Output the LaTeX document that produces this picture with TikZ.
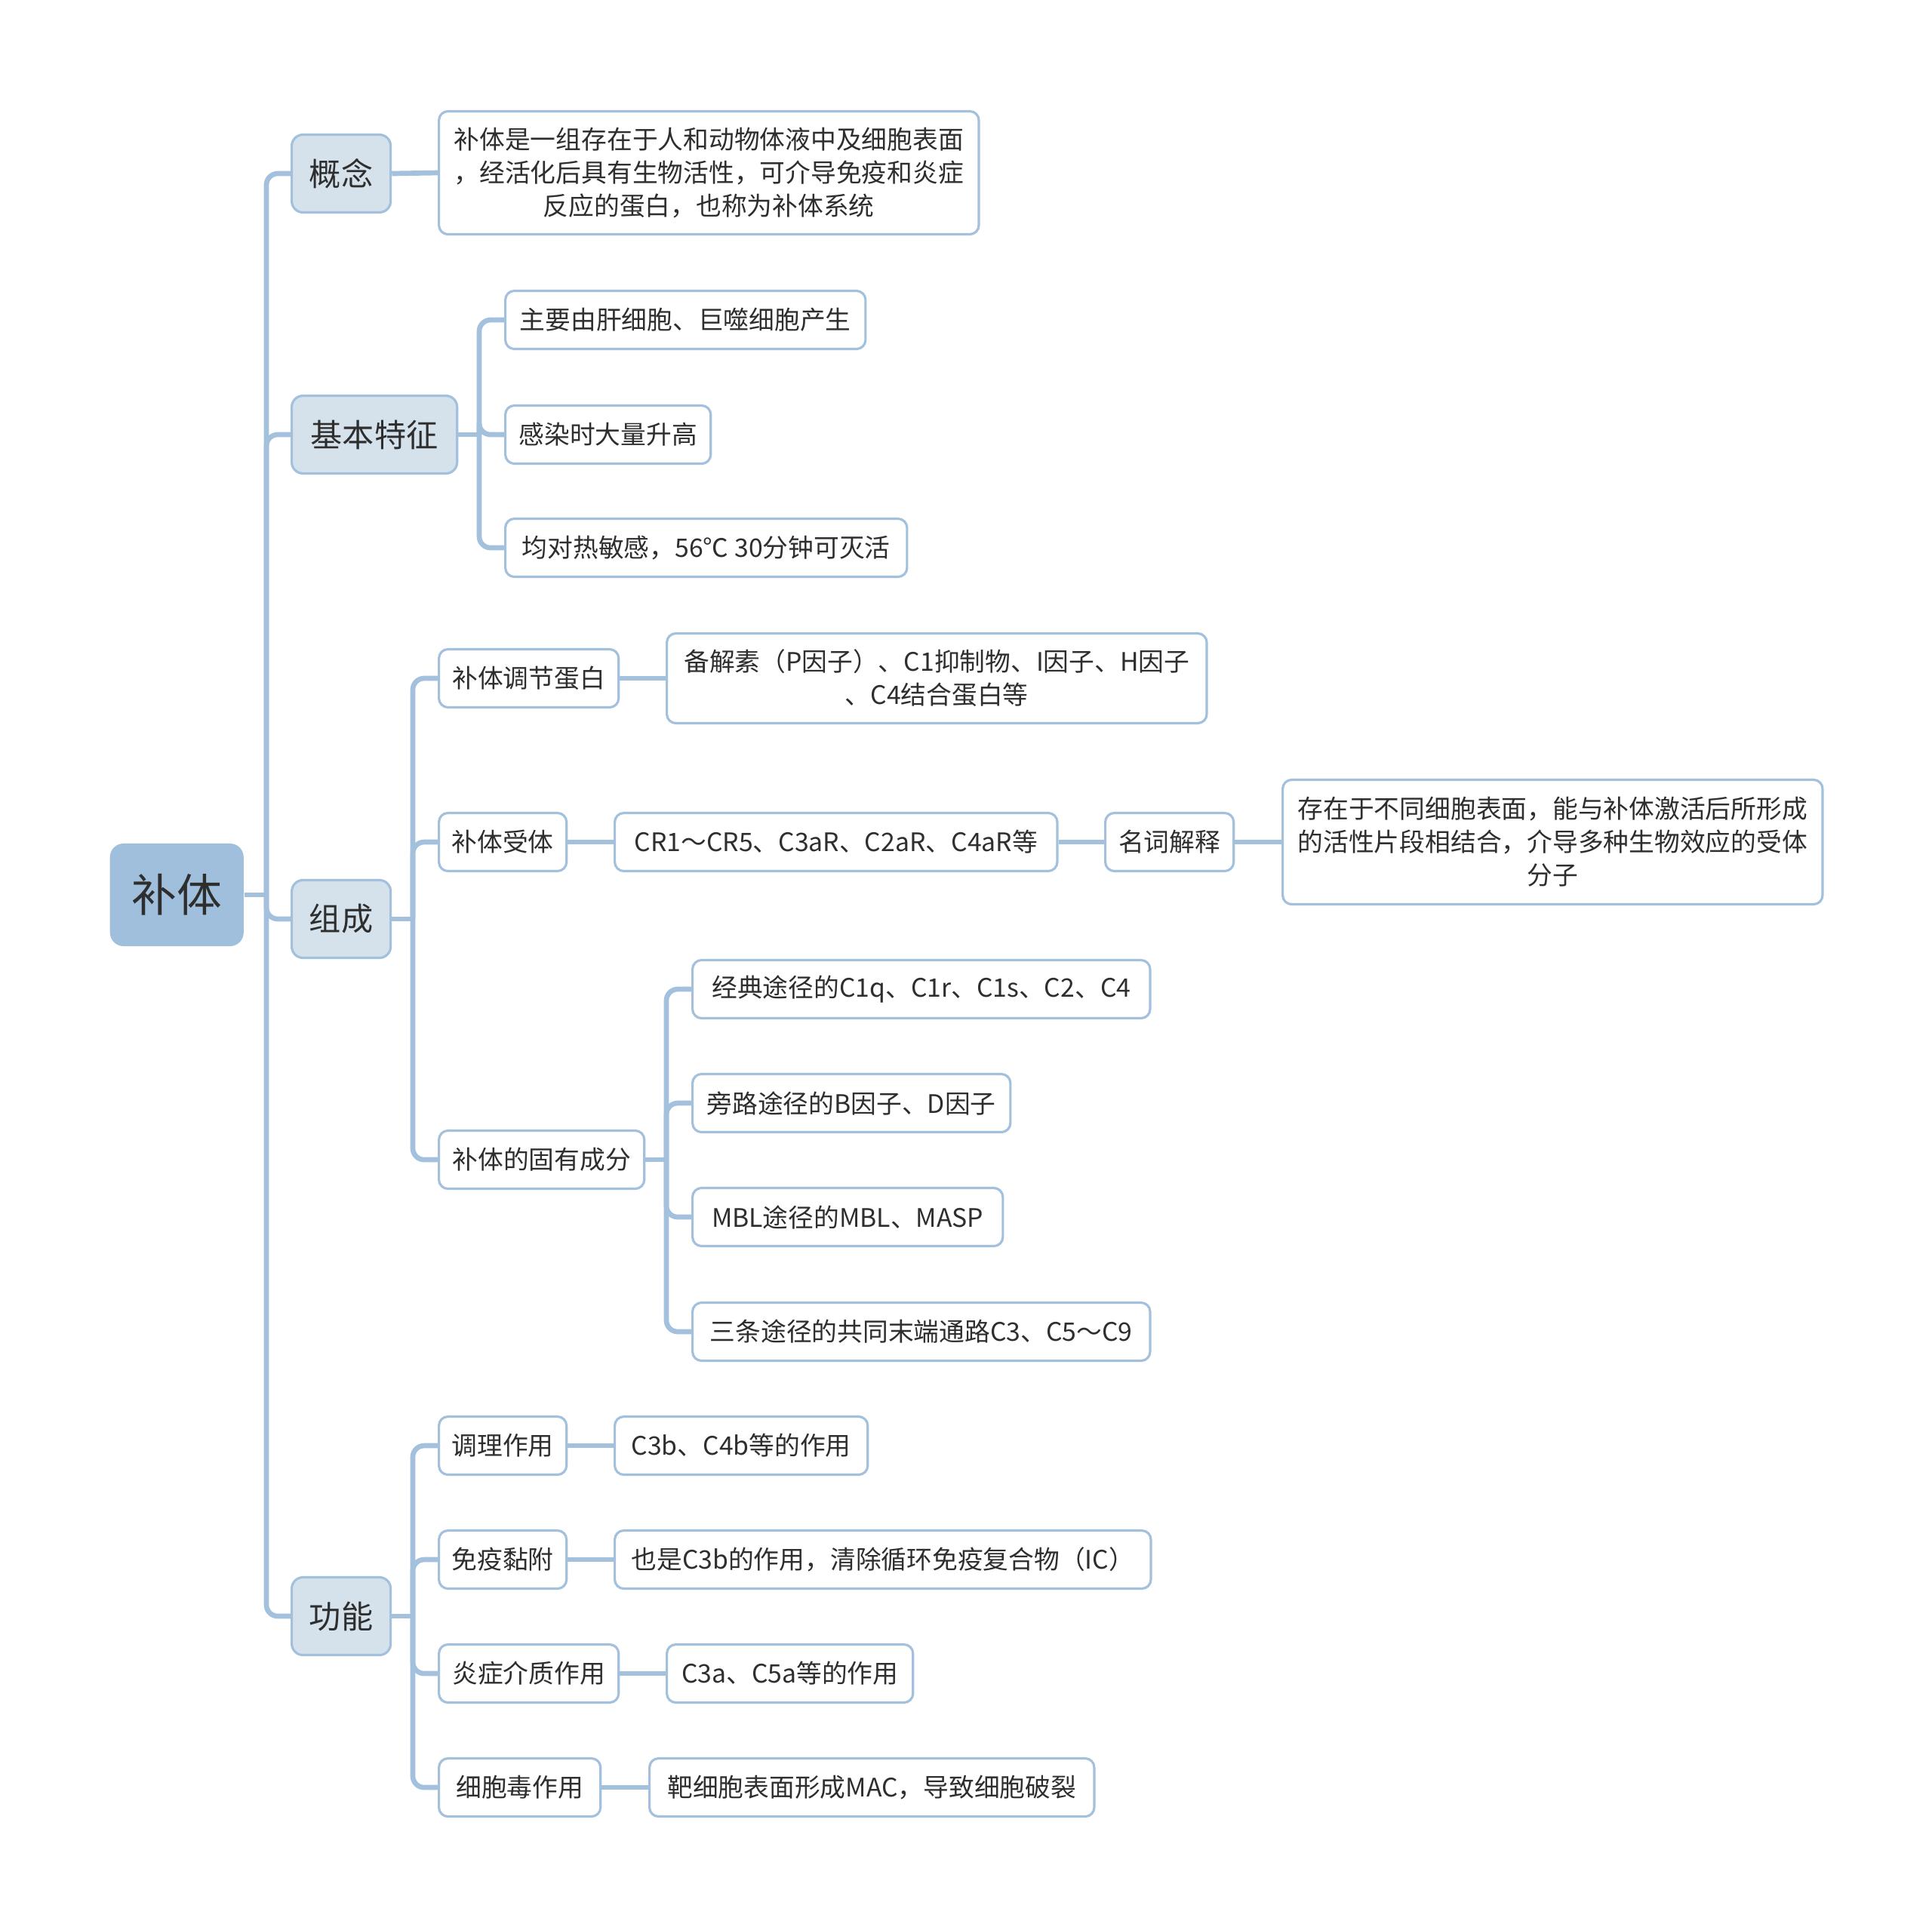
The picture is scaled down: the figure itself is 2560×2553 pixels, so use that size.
\documentclass[tikz,border=0pt]{standalone}
\usepackage{fontspec}
\setmainfont{Noto Sans CJK SC}
\usepackage{tikz}
\usetikzlibrary{positioning}
\usetikzlibrary{calc}
\definecolor{lineblue}{HTML}{A3C1DD}
\definecolor{rootblue}{HTML}{A0BFDD}
\definecolor{topicblue}{HTML}{D5E2EC}
\definecolor{ink}{HTML}{2E2E2E}
\tikzstyle{rootbox}=[fill=rootblue,rounded corners=0.18cm,minimum width=1.77cm,minimum height=1.36cm,text=ink,font=\fontsize{17}{20}\selectfont]
\tikzstyle{topic}=[draw=lineblue,line width=0.9pt,fill=topicblue,rounded corners=0.15cm,minimum height=1.03cm,inner xsep=0.23cm,text=ink,font=\fontsize{12}{14}\selectfont]
\tikzstyle{leaf}=[draw=lineblue,line width=0.9pt,fill=white,rounded corners=0.12cm,minimum height=0.77cm,inner xsep=0.15cm,align=center,text=ink,font=\fontsize{9.6}{12.5}\selectfont]
\tikzstyle{branch}=[draw=lineblue,line width=1.9pt,rounded corners=0.15cm]

\begin{document}
\begin{tikzpicture}[x=0.01cm,y=-0.01cm]
\useasboundingbox (0,0) rectangle (2560,2553);
% branch columns
\coordinate (t0) at (353,0);
\coordinate (t1) at (635,0);
\coordinate (t2) at (547,0);
\coordinate (t3) at (883,0);

\node [rootbox,anchor=west] (bt) at (145,1186) {补体};

\node [topic,anchor=west,minimum width=1.31cm] (gn) at (385,230) {概念};
\node [topic,anchor=west,minimum width=2.19cm] (jbtz) at (385,576) {基本特征};
\node [topic,anchor=west,minimum width=1.31cm] (zc) at (385,1218) {组成};
\node [topic,anchor=west,minimum width=1.31cm] (gnn) at (385,2142) {功能};

% 概念
\node [leaf,anchor=west,minimum width=7.15cm,minimum height=1.63cm] (gn1) at (580,229)
  {补体是一组存在于人和动物体液中及细胞表面\\，经活化后具有生物活性，可介导免疫和炎症\\反应的蛋白，也称为补体系统};

% 基本特征
\node [leaf,anchor=west,minimum width=4.77cm] (tz1) at (668,424) {主要由肝细胞、巨噬细胞产生};
\node [leaf,anchor=west,minimum width=2.72cm] (tz2) at (668,576) {感染时大量升高};
\node [leaf,anchor=west,minimum width=5.32cm] (tz3) at (668,726) {均对热敏感，56℃ 30分钟可灭活};

% 组成
\node [leaf,anchor=west,minimum width=2.38cm] (zc1) at (580,899) {补体调节蛋白};
\node [leaf,anchor=west,minimum width=7.15cm,minimum height=1.19cm] (zc1a) at (882,899)
  {备解素（P因子）、C1抑制物、I因子、H因子\\、C4结合蛋白等};
\node [leaf,anchor=west,minimum width=1.69cm] (zc2) at (580,1116) {补体受体};
\node [leaf,anchor=west,minimum width=5.86cm] (zc2a) at (813,1116) {CR1～CR5、C3aR、C2aR、C4aR等};
\node [leaf,anchor=west,minimum width=1.70cm] (zc2b) at (1463,1116) {名词解释};
\node [leaf,anchor=west,minimum width=7.15cm,minimum height=1.65cm] (zc2c) at (1698,1116)
  {存在于不同细胞表面，能与补体激活后所形成\\的活性片段相结合，介导多种生物效应的受体\\分子};
\node [leaf,anchor=west,minimum width=2.72cm] (zc3) at (580,1537) {补体的固有成分};
\node [leaf,anchor=west,minimum width=6.06cm] (zc3a) at (916,1311) {经典途径的C1q、C1r、C1s、C2、C4};
\node [leaf,anchor=west,minimum width=4.21cm] (zc3b) at (916,1462) {旁路途径的B因子、D因子};
\node [leaf,anchor=west,minimum width=4.11cm] (zc3c) at (916,1613) {MBL途径的MBL、MASP};
\node [leaf,anchor=west,minimum width=6.06cm] (zc3d) at (916,1765) {三条途径的共同末端通路C3、C5～C9};

% 功能
\node [leaf,anchor=west,minimum width=1.69cm] (gnn1) at (580,1916) {调理作用};
\node [leaf,anchor=west,minimum width=3.35cm] (gnn1a) at (813,1916) {C3b、C4b等的作用};
\node [leaf,anchor=west,minimum width=1.69cm] (gnn2) at (580,2067) {免疫黏附};
\node [leaf,anchor=west,minimum width=7.10cm] (gnn2a) at (813,2067) {也是C3b的作用，清除循环免疫复合物（IC）};
\node [leaf,anchor=west,minimum width=2.38cm] (gnn3) at (580,2218) {炎症介质作用};
\node [leaf,anchor=west,minimum width=3.26cm] (gnn3a) at (882,2218) {C3a、C5a等的作用};
\node [leaf,anchor=west,minimum width=2.14cm] (gnn4) at (580,2369) {细胞毒作用};
\node [leaf,anchor=west,minimum width=5.89cm] (gnn4a) at (859,2369) {靶细胞表面形成MAC，导致细胞破裂};

% connectors
\draw[branch] (bt.east) -- (bt.east -| t0);
\foreach \n in {gn,jbtz,zc,gnn}
  \draw[branch] (bt.east -| t0) |- (\n.west);

\draw[branch] (gn.east) -- (gn1.west);

\draw[branch] (jbtz.east) -- (jbtz.east -| t1);
\foreach \n in {tz1,tz2,tz3}
  \draw[branch] (jbtz.east -| t1) |- (\n.west);

\draw[branch] (zc.east) -- (zc.east -| t2);
\foreach \n in {zc1,zc2,zc3}
  \draw[branch] (zc.east -| t2) |- (\n.west);
\draw[branch] (zc1.east) -- (zc1a.west);
\draw[branch] (zc2.east) -- (zc2a.west);
\draw[branch] (zc2a.east) -- (zc2b.west);
\draw[branch] (zc2b.east) -- (zc2c.west);
\draw[branch] (zc3.east) -- (zc3.east -| t3);
\foreach \n in {zc3a,zc3b,zc3c,zc3d}
  \draw[branch] (zc3.east -| t3) |- (\n.west);

\draw[branch] (gnn.east) -- (gnn.east -| t2);
\foreach \n in {gnn1,gnn2,gnn3,gnn4}
  \draw[branch] (gnn.east -| t2) |- (\n.west);
\draw[branch] (gnn1.east) -- (gnn1a.west);
\draw[branch] (gnn2.east) -- (gnn2a.west);
\draw[branch] (gnn3.east) -- (gnn3a.west);
\draw[branch] (gnn4.east) -- (gnn4a.west);
\end{tikzpicture}
\end{document}
